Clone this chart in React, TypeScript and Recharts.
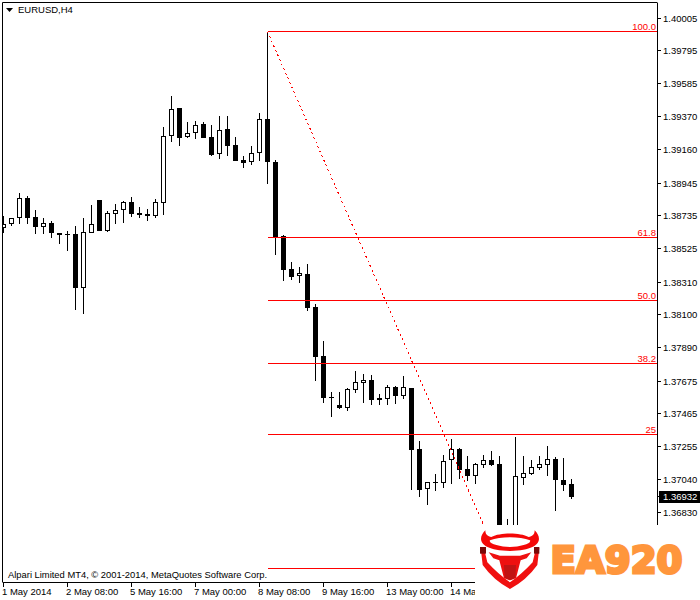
import React from "react";
import { ComposedChart, Bar, XAxis, YAxis, ReferenceLine } from "recharts";

const opens = [1.3866,1.38681,1.38719,1.3885,1.38728,1.38666,1.38689,1.38623,1.38619,1.38619,1.38274,1.38627,1.38837,1.3864,1.38749,1.38771,1.38824,1.38752,1.38745,1.38736,1.3882,1.39246,1.39425,1.39244,1.39265,1.39323,1.39239,1.3913,1.39291,1.39188,1.39094,1.39079,1.39137,1.39355,1.39081,1.38606,1.38392,1.38351,1.3836,1.38148,1.37836,1.37571,1.37519,1.37502,1.3762,1.37665,1.37682,1.37564,1.37562,1.37635,1.37579,1.3763,1.37237,1.36984,1.37024,1.37023,1.37166,1.37237,1.37108,1.37068,1.37136,1.37166,1.37141,1.3665,1.3665,1.37055,1.37081,1.37119,1.37138,1.37173,1.37038,1.37014];
const highs = [1.38734,1.38719,1.38882,1.38863,1.38773,1.38721,1.38702,1.38623,1.38638,1.3867,1.38721,1.38805,1.38837,1.38764,1.38811,1.38831,1.38856,1.38792,1.38779,1.38843,1.39306,1.39505,1.39425,1.39338,1.39344,1.39335,1.39318,1.39376,1.39376,1.39241,1.39119,1.39184,1.39395,1.39909,1.39094,1.38612,1.38439,1.38407,1.38424,1.3817,1.37932,1.37605,1.37605,1.3763,1.3774,1.3772,1.37714,1.37592,1.3765,1.37643,1.37708,1.3763,1.3729,1.37025,1.37078,1.372,1.37301,1.37243,1.37194,1.37147,1.372,1.37226,1.37192,1.3679,1.37316,1.37194,1.37168,1.37194,1.37258,1.37185,1.37181,1.37046];
const lows = [1.38627,1.38672,1.38683,1.38683,1.38621,1.38621,1.38595,1.38557,1.38512,1.38133,1.38108,1.38627,1.3864,1.38634,1.38683,1.38692,1.3873,1.38721,1.38704,1.38721,1.38741,1.39211,1.39186,1.39237,1.39231,1.39237,1.39122,1.39102,1.39122,1.3909,1.39045,1.39064,1.3909,1.38942,1.38484,1.38317,1.38324,1.38304,1.38125,1.37675,1.37534,1.37444,1.37496,1.37483,1.37598,1.37534,1.37521,1.37521,1.37521,1.37528,1.3756,1.36976,1.36931,1.3688,1.36969,1.36989,1.37014,1.37046,1.37034,1.37014,1.37117,1.3713,1.3664,1.3655,1.366,1.37008,1.37072,1.37104,1.37066,1.36841,1.36969,1.36918];
const closes = [1.38681,1.38719,1.38848,1.38724,1.38666,1.38687,1.38625,1.38615,1.38617,1.38274,1.3863,1.38681,1.3864,1.38752,1.38771,1.38822,1.38749,1.38743,1.38736,1.38822,1.39246,1.39419,1.39237,1.39265,1.39316,1.39237,1.39128,1.39284,1.39186,1.3909,1.39077,1.39137,1.39355,1.39083,1.38597,1.38388,1.38343,1.38366,1.38144,1.37829,1.37566,1.37568,1.37502,1.37622,1.37667,1.3768,1.37553,1.37553,1.37635,1.37579,1.37635,1.37235,1.36976,1.37025,1.37021,1.3716,1.37237,1.37104,1.37066,1.37141,1.37166,1.37134,1.367,1.366,1.37064,1.37083,1.37121,1.37141,1.37173,1.37042,1.37008,1.36932];

const priceTicks = [1.40005,1.39795,1.39585,1.3937,1.3916,1.38945,1.38735,1.38525,1.3831,1.381,1.3789,1.37675,1.37465,1.37255,1.3704,1.3683];
const currentPrice = 1.36932;
const dateTicks = [0,8,16,24,32,40,48,56];
const dateLabels = ["1 May 2014","2 May 08:00","5 May 16:00","7 May 00:00","8 May 08:00","9 May 16:00","13 May 00:00","14 May 08:00"];
const fibLevels = ["100.0","61.8","50.0","38.2","25",""];
const fibPrices = [1.39918,1.38596,1.38192,1.37788,1.37332,1.36472];
const trendFromIndex = 33;
const trendToIndex = 62.4;

const rows = opens.map((o, i) => ({ i, o, h: highs[i], l: lows[i], c: closes[i] }));

const FONT = "'Liberation Sans', Arial, sans-serif";
const X_DOMAIN: [number, number] = [-0.125, 81.75];
const Y_DOMAIN: [number, number] = [1.36382, 1.401045];

function Candle(props: any) {
  const { x, y, width, height, payload } = props;
  const { o, h, l, c } = payload;
  const k = height / (h - l);
  const up = c >= o;
  const left = Math.round(x);
  const top = Math.round(y);
  const bottom = Math.round(y + height);
  const bodyTop = Math.round(y + (h - Math.max(o, c)) * k);
  const bodyBottom = Math.max(Math.round(y + (h - Math.min(o, c)) * k), bodyTop + 1);
  return (
    <g shapeRendering="crispEdges">
      <rect x={left + 2} y={top} width={1} height={Math.max(bottom - top, 1)} fill="#000" />
      {up ? (
        <rect x={left + 0.5} y={bodyTop + 0.5} width={4} height={Math.max(bodyBottom - bodyTop - 1, 1)} fill="#fff" stroke="#000" strokeWidth={1} />
      ) : (
        <rect x={left} y={bodyTop} width={5} height={bodyBottom - bodyTop} fill="#000" />
      )}
    </g>
  );
}

function PriceTick(props: any) {
  const { x, y, payload } = props;
  const v = payload.value as number;
  if (v === currentPrice) {
    return (
      <g>
        <rect x={659} y={491} width={41} height={12} fill="#000" shapeRendering="crispEdges" />
        <text x={663} y={y + 3} fontFamily={FONT} fontSize={9.5} fill="#fff">{v.toFixed(5)}</text>
      </g>
    );
  }
  return <text x={663} y={y + 3.5} fontFamily={FONT} fontSize={9.5} fill="#000">{v.toFixed(5)}</text>;
}

function DateTick(props: any) {
  const { x, y, payload } = props;
  const label = dateLabels[dateTicks.indexOf(payload.value)];
  return <text x={x - 1.5} y={595} fontFamily={FONT} fontSize={9.5} fill="#000">{label}</text>;
}

function fibShape(label: string) {
  return (p: any) => (
    <g>
      <line x1={p.x1} y1={Math.floor(p.y1) + 0.5} x2={p.x2} y2={Math.floor(p.y2) + 0.5} stroke="#ff0000" strokeWidth={1} shapeRendering="crispEdges" />
      {label ? (
        <text x={656} y={Math.floor(p.y1) - 1.5} textAnchor="end" fontFamily={FONT} fontSize={9.5} fill="#ff0000">{label}</text>
      ) : null}
    </g>
  );
}

function Overlay() {
  return (
    <svg width={700} height={600} style={{ position: "absolute", left: 0, top: 0 }}>
      <polygon points="6,8 13,8 9.5,12" fill="#000" />
      <text x={18} y={13} fontFamily={FONT} fontSize={9.5} fill="#000">EURUSD,H4</text>
      <text x={8} y={578} fontFamily={FONT} fontSize={9.4} fill="#000">Alpari Limited MT4, © 2001-2014, MetaQuotes Software Corp.</text>
      <rect x={475} y={525} width={225} height={75} fill="#fff" />
      <g transform="translate(470 515) scale(0.3333)">
        <path d="M32 98 L38 150 Q70 195 120 222 Q170 195 202 150 L208 98 L196 108 L188 142 Q155 178 120 202 Q85 178 52 142 L44 108 Z" fill="#f01010" />
        <path d="M46 46 C20 72 28 106 120 108 C212 106 220 72 194 46 C194 60 186 64 176 66 C150 52 90 52 64 66 C54 64 46 60 46 46 Z" fill="#f40808" />
        <path d="M60 76 C90 64 150 64 180 76 C186 86 150 96 120 96 C90 96 54 86 60 76 Z" fill="#fff" />
        <rect x={30} y={96} width={18} height={20} fill="#7a0808" />
        <rect x={192} y={96} width={16} height={20} fill="#7a0808" />
        <path d="M56 112 L90 122 L150 122 L184 112 L170 130 L152 136 L138 190 L120 196 L102 190 L88 136 L70 130 Z" fill="#ee1010" />
        <path d="M102 150 L138 150 L136 188 L120 196 L104 188 Z" fill="#c01414" />
      </g>
      <text x={550.5} y={572.5} textLength={132} lengthAdjust="spacingAndGlyphs" fontFamily="'DejaVu Sans', sans-serif" fontWeight={700} fontSize={38} fill="#ff963c" stroke="#ff963c" strokeWidth={3} strokeLinejoin="miter">EA920</text>
    </svg>
  );
}

export default function App() {
  const tl = { stroke: "#000", shapeRendering: "crispEdges" } as any;
  return (
    <div style={{ position: "absolute", left: 0, top: 0, width: 700, height: 600, background: "#fff" }}>
      <ComposedChart width={700} height={600} data={rows} margin={{ top: 2.5, right: 0, bottom: 0, left: 2.5 }}>
        <XAxis
          dataKey="i"
          type="number"
          domain={X_DOMAIN}
          allowDataOverflow
          ticks={dateTicks}
          interval={0}
          height={17.5}
          tickSize={4}
          axisLine={tl}
          tickLine={tl}
          tick={<DateTick />}
        />
        <YAxis
          orientation="right"
          type="number"
          width={42.5}
          domain={Y_DOMAIN}
          allowDataOverflow
          ticks={[...priceTicks, currentPrice]}
          interval={0}
          tickSize={3}
          axisLine={tl}
          tickLine={tl}
          tick={<PriceTick />}
        />
        <Bar dataKey={(d: any) => [d.l, d.h]} barSize={5} isAnimationActive={false} shape={<Candle />} />
        <ReferenceLine x={X_DOMAIN[0]} stroke="#000" strokeWidth={1} />
        <ReferenceLine y={Y_DOMAIN[1]} stroke="#000" strokeWidth={1} />
        {fibPrices.map((p, idx) => (
          <ReferenceLine
            key={idx}
            segment={[{ x: trendFromIndex, y: p }, { x: X_DOMAIN[1], y: p }]}
            shape={fibShape(fibLevels[idx])}
          />
        ))}
        <ReferenceLine
          segment={[{ x: trendFromIndex, y: fibPrices[0] }, { x: trendToIndex, y: fibPrices[5] }]}
          stroke="#ff0000"
          strokeWidth={1}
          strokeDasharray="2 3"
          shapeRendering="crispEdges"
        />
      </ComposedChart>
      <Overlay />
    </div>
  );
}
